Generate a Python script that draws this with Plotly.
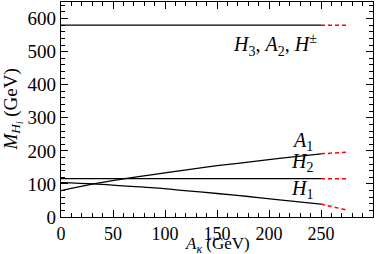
import plotly.graph_objects as go

# data
ak = [0, 31, 60, 90, 119, 150, 180, 210, 250]
h1 = [104, 100, 94, 88, 80, 71, 62, 52, 39]
a1 = [80, 100, 115, 129, 142, 155, 166, 177, 191]
h2_val = 116
h3_val = 580

ak_ext = [250, 275]
h1_ext = [39, 21]
a1_ext = [191, 196]
h2_ext = [116, 116]
h3_ext = [580, 580]

x_title = "<i>A</i><sub><i>κ</i></sub> (GeV)"
y_title = "<i>M</i><sub><i>H<sub>i</sub></i></sub> (GeV)"

font = "Liberation Serif"
fig = go.Figure()
blk = dict(color="black", width=1.3)
red = dict(color="red", width=1.5, dash="4px,3px")
fig.add_trace(go.Scatter(x=[ak[0], ak[-1]], y=[h3_val, h3_val], mode="lines", line=blk))
fig.add_trace(go.Scatter(x=[ak[0], ak[-1]], y=[h2_val, h2_val], mode="lines", line=blk))
fig.add_trace(go.Scatter(x=ak, y=a1, mode="lines", line=dict(blk, shape="spline")))
fig.add_trace(go.Scatter(x=ak, y=h1, mode="lines", line=dict(blk, shape="spline")))
for ys in (h3_ext, h2_ext, a1_ext, h1_ext):
    fig.add_trace(go.Scatter(x=ak_ext, y=ys, mode="lines", line=red))

labels = [
    (206, 520, "<i>H</i><sub>3</sub>, <i>A</i><sub>2</sub>, <i>H</i><sup>±</sup>"),
    (232, 228, "<i>A</i><sub>1</sub>"),
    (232, 165, "<i>H</i><sub>2</sub>"),
    (232, 84, "<i>H</i><sub>1</sub>"),
]
for x, y, t in labels:
    fig.add_annotation(x=x, y=y, text=t, showarrow=False,
                       font=dict(family=font, size=20, color="black"))

# axis titles
fig.add_annotation(x=0.5, y=0, xref="paper", yref="paper", yanchor="middle",
                   yshift=-28, text=x_title, showarrow=False, borderpad=0,
                   font=dict(family=font, size=17, color="black"))
fig.add_annotation(x=0, y=0.5, xref="paper", yref="paper", xanchor="center",
                   xshift=-49, textangle=-90, text=y_title, showarrow=False,
                   borderpad=0, font=dict(family=font, size=19, color="black"))

axis = dict(showgrid=False, zeroline=False, showline=True, linecolor="black",
            linewidth=1.3, mirror="allticks", ticks="inside", ticklen=7,
            tickwidth=1.2, tickcolor="black", automargin=False)
fig.update_xaxes(**axis, range=[0, 300], dtick=50, tick0=0,
                 tickfont=dict(family=font, size=18, color="black"),
                 minor=dict(dtick=10, ticks="inside", ticklen=4, tickcolor="black", tickwidth=1))
fig.update_yaxes(**axis, range=[0, 650], dtick=100, tick0=0,
                 tickfont=dict(family=font, size=19, color="black"),
                 minor=dict(dtick=20, ticks="inside", ticklen=4, tickcolor="black", tickwidth=1))
fig.update_layout(width=383, height=254, showlegend=False,
                  margin=dict(l=61, r=10, t=2, b=37),
                  plot_bgcolor="white", paper_bgcolor="white")
fig.write_html("out.html", config={"displayModeBar": False},
               post_script="document.body.style.margin='0';document.body.style.overflow='hidden';")
